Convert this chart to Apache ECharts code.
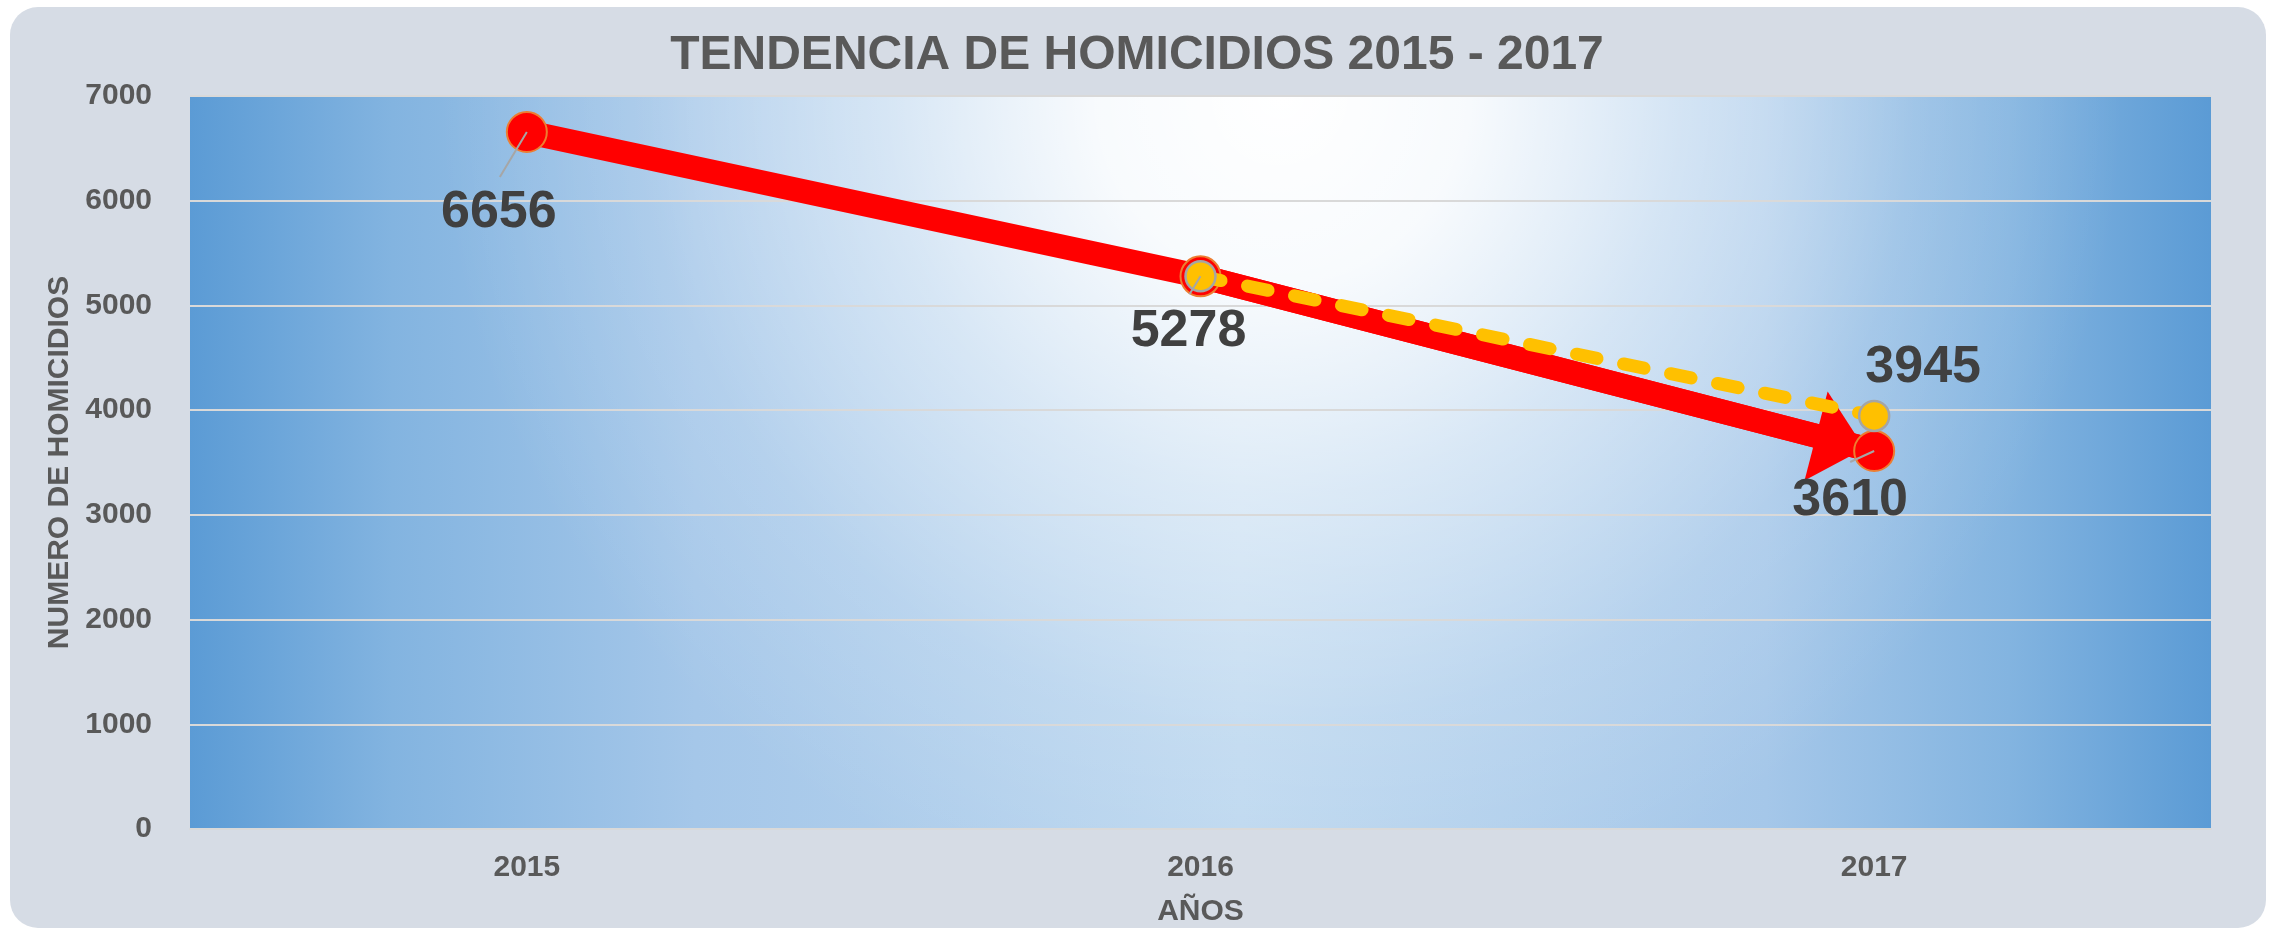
<!DOCTYPE html>
<html>
<head>
<meta charset="utf-8">
<title>Tendencia de homicidios 2015 - 2017</title>
<script src="https://cdn.jsdelivr.net/npm/echarts@6/dist/echarts.min.js"></script>
<style>
  html, body { margin: 0; padding: 0; background: #ffffff; }
  #chart { width: 2274px; height: 936px; }
</style>
</head>
<body>
<div id="chart"></div>
<script>
// datos
var years = ['2015', '2016', '2017'];
var homicidios = [6656, 5278, 3610];
var tendencia = [null, 5278, 3945];
var yTicks = [0, 7000, 1000]; // min, max, intervalo

// posicion de cada etiqueta (y su linea guia) respecto a su punto, en px
var redLabelOffsets = [[-28, 81], [-12, 55], [-24, 50]];
var leaderOffsets = [[-27, 45], [-11, 18], [-24, 11]];
var yellowLabelOffsets = [[0, 0], [0, 0], [49, -48]];

var FONT = '"Liberation Sans", Arial, sans-serif';
var GRID = { left: 190, top: 96, width: 2021, height: 733 };

var myChart = echarts.init(document.getElementById('chart'));

var redData = homicidios.map(function (v, i) {
  return { value: v, label: { offset: redLabelOffsets[i] } };
});
var yellowData = tendencia.map(function (v, i) {
  return {
    value: v,
    label: { show: i === tendencia.length - 1, offset: yellowLabelOffsets[i] }
  };
});
var leaderData = homicidios.map(function (v, i) { return [i, v]; });

var last = years.length - 1;

var option = {
  animation: false,
  backgroundColor: '#ffffff',
  graphic: [
    {
      // fondo general del grafico
      type: 'rect', z: -10, silent: true,
      shape: { x: 10, y: 7, width: 2256, height: 921, r: 28 },
      style: { fill: '#d6dce5' }
    },
    {
      // fondo del area de trazado: azul en los lados
      type: 'rect', z: -9, silent: true,
      shape: { x: GRID.left, y: GRID.top, width: GRID.width, height: GRID.height },
      style: {
        fill: {
          type: 'linear', x: 0, y: 0, x2: 1, y2: 0,
          colorStops: [
            { offset: 0, color: '#5b9bd5' },
            { offset: 0.1, color: '#83b4e0' },
            { offset: 0.25, color: '#a5c7e9' },
            { offset: 0.52, color: '#bcd7ef' },
            { offset: 0.78, color: '#a5c7e9' },
            { offset: 0.9, color: '#83b4e0' },
            { offset: 1, color: '#5b9bd5' }
          ]
        }
      }
    },
    {
      // brillo blanco arriba al centro
      type: 'rect', z: -8, silent: true,
      shape: { x: GRID.left, y: GRID.top, width: GRID.width, height: GRID.height },
      style: {
        fill: {
          type: 'radial', x: 0.54, y: 0.0, r: 1.15,
          colorStops: [
            { offset: 0, color: 'rgba(255,255,255,1)' },
            { offset: 0.22, color: 'rgba(255,255,255,0.9)' },
            { offset: 0.47, color: 'rgba(255,255,255,0.5)' },
            { offset: 0.75, color: 'rgba(255,255,255,0.15)' },
            { offset: 1, color: 'rgba(255,255,255,0)' }
          ]
        }
      }
    }
  ],
  title: {
    text: 'TENDENCIA DE HOMICIDIOS 2015 - 2017',
    left: 'center',
    top: 27,
    textStyle: { fontFamily: FONT, fontSize: 48, fontWeight: 'bold', color: '#595959' }
  },
  grid: {
    left: GRID.left, top: GRID.top, right: 63, bottom: 107,
    show: false
  },
  xAxis: {
    type: 'category',
    data: years,
    name: 'AÑOS',
    nameLocation: 'middle',
    nameGap: 68,
    nameTextStyle: { fontFamily: FONT, fontSize: 30, fontWeight: 'bold', color: '#595959' },
    axisLine: { lineStyle: { color: '#d9d9d9', width: 2 } },
    axisTick: { show: false },
    axisLabel: { margin: 24, fontFamily: FONT, fontSize: 30, fontWeight: 'bold', color: '#595959' }
  },
  yAxis: {
    type: 'value',
    min: yTicks[0],
    max: yTicks[1],
    interval: yTicks[2],
    name: 'NUMERO DE HOMICIDIOS',
    nameLocation: 'middle',
    nameGap: 114,
    nameTextStyle: { fontFamily: FONT, fontSize: 30, fontWeight: 'bold', color: '#595959' },
    axisLine: { show: false },
    axisTick: { show: false },
    axisLabel: {
      margin: 38, fontFamily: FONT, fontSize: 30, fontWeight: 'bold', color: '#595959',
      formatter: function (v) { return String(v); }
    },
    splitLine: { lineStyle: { color: '#d9d9d9', width: 2 } }
  },
  series: [
    {
      name: 'Homicidios',
      type: 'line',
      data: redData,
      z: 2,
      symbol: 'circle',
      symbolSize: 40,
      lineStyle: { color: '#ff0000', width: 24 },
      itemStyle: { color: '#ff0000', borderColor: '#ed7d31', borderWidth: 2 },
      label: {
        show: true,
        position: 'inside',
        fontFamily: FONT, fontSize: 52, fontWeight: 'bold', color: '#404040'
      },
      emphasis: { disabled: true },
      markLine: {
        silent: true,
        z: 1,
        animation: false,
        label: { show: false },
        lineStyle: { color: '#ff0000', width: 24, type: 'solid' },
        data: [[
          { coord: [years[last - 1], homicidios[last - 1]], symbol: 'none' },
          { coord: [years[last], homicidios[last]], symbol: 'triangle', symbolSize: [92, 50], symbolOffset: [0, 35] }
        ]]
      }
    },
    {
      name: 'Tendencia',
      type: 'line',
      data: yellowData,
      z: 3,
      symbol: 'circle',
      symbolSize: 30,
      lineStyle: { color: '#ffc000', width: 13, type: [21, 27], cap: 'round' },
      itemStyle: { color: '#ffc000', borderColor: '#a5a5a5', borderWidth: 2.5 },
      label: {
        position: 'inside',
        fontFamily: FONT, fontSize: 52, fontWeight: 'bold', color: '#404040'
      },
      emphasis: { disabled: true }
    },
    {
      // lineas guia de las etiquetas, desde el centro del punto
      name: 'guias',
      type: 'custom',
      z: 4,
      silent: true,
      data: leaderData,
      encode: { x: 0, y: 1 },
      renderItem: function (params, api) {
        var p = api.coord([api.value(0), api.value(1)]);
        var o = leaderOffsets[params.dataIndex];
        return {
          type: 'line',
          shape: { x1: p[0], y1: p[1], x2: p[0] + o[0], y2: p[1] + o[1] },
          style: { stroke: '#a6a6a6', lineWidth: 2 }
        };
      }
    }
  ]
};

myChart.setOption(option);
</script>
</body>
</html>
